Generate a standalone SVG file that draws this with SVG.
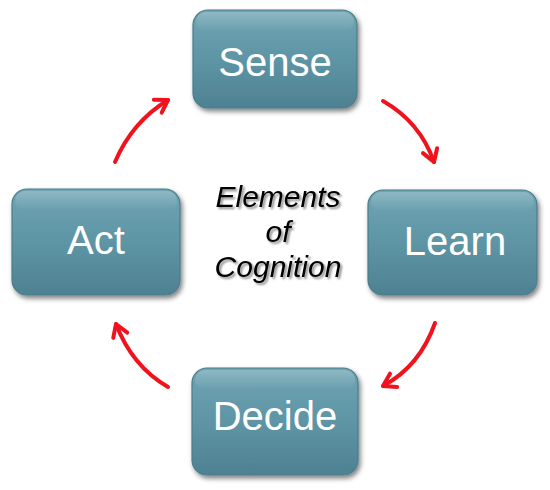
<svg xmlns="http://www.w3.org/2000/svg" width="550" height="490" viewBox="0 0 550 490">
<defs>
<linearGradient id="boxg" x1="0" y1="0" x2="0" y2="1">
<stop offset="0" stop-color="#6fa4b3"/>
<stop offset="0.5" stop-color="#5e95a5"/>
<stop offset="1" stop-color="#4e8191"/>
</linearGradient>
<linearGradient id="hl" x1="0" y1="0" x2="0" y2="1">
<stop offset="0" stop-color="#ffffff" stop-opacity="0.22"/>
<stop offset="1" stop-color="#ffffff" stop-opacity="0"/>
</linearGradient>
<filter id="sh" x="-10%" y="-10%" width="125%" height="130%">
<feGaussianBlur in="SourceAlpha" stdDeviation="2.5"/>
<feOffset dx="2" dy="3" result="b"/>
<feComponentTransfer><feFuncA type="linear" slope="0.5"/></feComponentTransfer>
<feMerge><feMergeNode/><feMergeNode in="SourceGraphic"/></feMerge>
</filter>
<filter id="tsh" x="-10%" y="-10%" width="130%" height="130%">
<feGaussianBlur in="SourceAlpha" stdDeviation="1.2"/>
<feOffset dx="1.5" dy="2"/>
<feComponentTransfer><feFuncA type="linear" slope="0.45"/></feComponentTransfer>
<feMerge><feMergeNode/><feMergeNode in="SourceGraphic"/></feMerge>
</filter>
<marker id="ah" viewBox="0 0 22 22" refX="16" refY="11" markerWidth="22" markerHeight="22" markerUnits="userSpaceOnUse" orient="auto">
<path d="M4,3.5 L16,11 L4,18.5" fill="none" stroke="#f0121c" stroke-width="4" stroke-linecap="round" stroke-linejoin="round"/>
</marker>
</defs>
<style>
.box{fill:url(#boxg);stroke:#4a7c8b;stroke-width:1.2;filter:url(#sh)}
.hl{fill:url(#hl)}
.lbl{font-family:"Liberation Sans",Arial,sans-serif;font-size:40px;fill:#ffffff;text-anchor:middle}
.ctr{font-family:"Liberation Sans",Arial,sans-serif;font-size:30px;font-style:italic;fill:#000000;text-anchor:middle;filter:url(#tsh)}
.arr{fill:none;stroke:#f0121c;stroke-width:4;stroke-linecap:round;marker-end:url(#ah)}
</style>
<rect width="550" height="490" fill="#ffffff"/>
<g id="connectors">
<path class="arr" d="M115,162 Q132,122 168,100"/>
<path class="arr" d="M383,101 Q420,122 434,162"/>
<path class="arr" d="M435,323 Q420,366 383,386"/>
<path class="arr" d="M168,387 Q132,366 116,324"/>
</g>
<g id="sense">
<rect class="box" x="193" y="10" width="164" height="98" rx="15"/>
<rect class="hl" x="196" y="12" width="158" height="20" rx="10"/>
<text class="lbl" x="275" y="76">Sense</text>
</g>
<g id="learn">
<rect class="box" x="368" y="190" width="169" height="105" rx="15"/>
<rect class="hl" x="371" y="192" width="163" height="20" rx="10"/>
<text class="lbl" x="455" y="255">Learn</text>
</g>
<g id="decide">
<rect class="box" x="192" y="368" width="166" height="107" rx="15"/>
<rect class="hl" x="195" y="370" width="160" height="20" rx="10"/>
<text class="lbl" x="275" y="430">Decide</text>
</g>
<g id="act">
<rect class="box" x="12" y="189" width="168" height="106" rx="15"/>
<rect class="hl" x="15" y="191" width="162" height="20" rx="10"/>
<text class="lbl" x="96" y="254">Act</text>
</g>
<g id="center">
<text class="ctr" x="278" y="207">Elements</text>
<text class="ctr" x="278" y="242">of</text>
<text class="ctr" x="278" y="277">Cognition</text>
</g>
</svg>
